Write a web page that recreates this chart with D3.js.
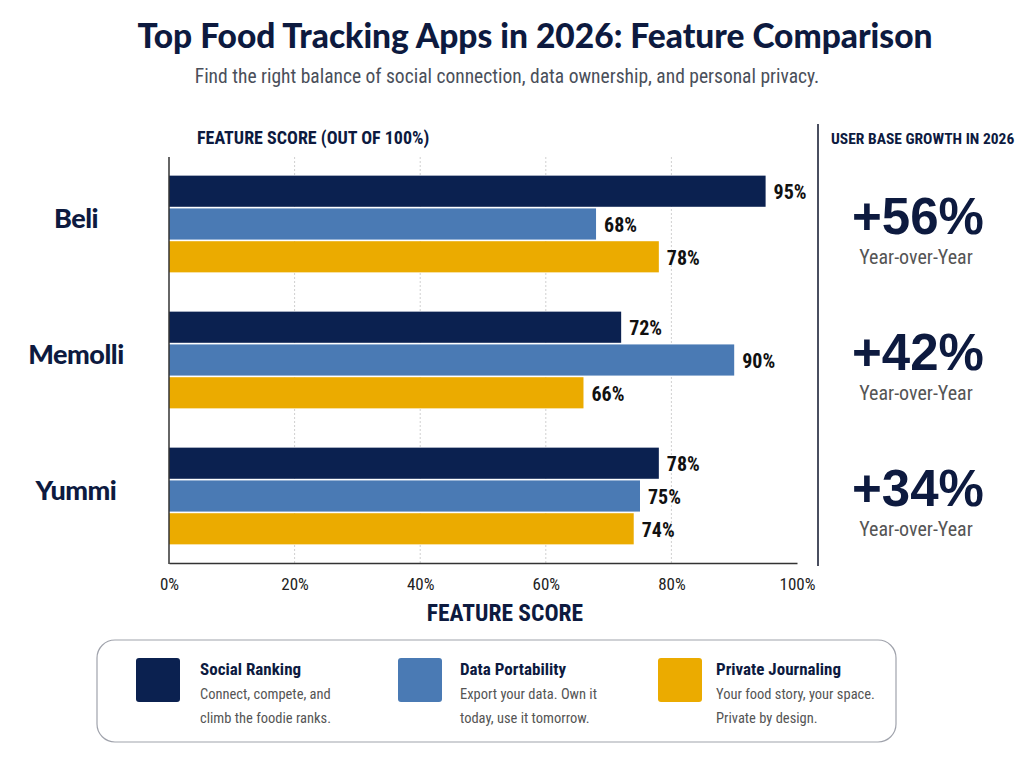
<!DOCTYPE html>
<html>
<head>
<meta charset="utf-8">
<script src="https://cdn.jsdelivr.net/npm/d3@7"></script>
<style>
  body { margin: 0; background: #fff; }
  svg { display: block; }
</style>
</head>
<body>
<div id="chart"></div>
<script>
const apps = ['Beli', 'Memolli', 'Yummi']
const features = ['Social Ranking', 'Data Portability', 'Private Journaling']
const featureNotes = [
  ['Connect, compete, and', 'climb the foodie ranks.'],
  ['Export your data. Own it', 'today, use it tomorrow.'],
  ['Your food story, your space.', 'Private by design.']
]
const socialRanking = [95, 72, 78]
const dataPortability = [68, 90, 75]
const privateJournaling = [78, 66, 74]
const growth = [56, 42, 34]
const ticks = [0, 20, 40, 60, 80, 100]

const colors = ['#0b2150', '#4a7ab4', '#ebab00']
const navy = '#0d1a3f'
const narrow = "'Liberation Sans Narrow', 'Roboto Condensed', Roboto, sans-serif"
const head = "Lato, 'Open Sans', sans-serif"

const w = 1024, h = 768

const svg = d3.select('#chart').append('svg')
  .attr('width', w)
  .attr('height', h)

svg.append('text')
  .attr('x', 535).attr('y', 48)
  .attr('text-anchor', 'middle')
  .attr('font-family', head).attr('font-weight', 900)
  .attr('font-size', 33.5).attr('fill', navy)
  .text('Top Food Tracking Apps in 2026: Feature Comparison')

svg.append('text')
  .attr('x', 507).attr('y', 83)
  .attr('text-anchor', 'middle')
  .attr('font-family', narrow)
  .attr('font-size', 19.5).attr('fill', '#4a4f5a')
  .text('Find the right balance of social connection, data ownership, and personal privacy.')

// bar chart
const x = d3.scaleLinear().domain([0, 100]).range([169, 797])
const y0 = d3.scaleBand().domain(apps).range([157, 565]).paddingInner(0).paddingOuter(0)
const y1 = d3.scaleBand().domain(features).range([17, 117]).padding(0.05)

svg.append('text')
  .attr('x', 197).attr('y', 144)
  .attr('font-family', narrow).attr('font-weight', 700)
  .attr('font-size', 18).attr('fill', navy)
  .text('FEATURE SCORE (OUT OF 100%)')

svg.append('g')
  .selectAll('line')
  .data(ticks.slice(1, -1))
  .join('line')
  .attr('x1', d => x(d)).attr('x2', d => x(d))
  .attr('y1', 157).attr('y2', 563)
  .attr('stroke', '#d0d0d0')
  .attr('stroke-dasharray', '2,2')

const rows = apps.map((app, i) => ({
  app,
  values: [socialRanking[i], dataPortability[i], privateJournaling[i]]
}))

const group = svg.append('g')
  .selectAll('g')
  .data(rows)
  .join('g')
  .attr('transform', d => `translate(0,${y0(d.app)})`)

group.selectAll('rect')
  .data(d => d.values.map((v, j) => ({ v, f: features[j], c: colors[j] })))
  .join('rect')
  .attr('x', x(0))
  .attr('y', d => y1(d.f))
  .attr('width', d => x(d.v) - x(0))
  .attr('height', y1.bandwidth())
  .attr('fill', d => d.c)

group.selectAll('text.val')
  .data(d => d.values.map((v, j) => ({ v, f: features[j] })))
  .join('text')
  .attr('class', 'val')
  .attr('x', d => x(d.v) + 8)
  .attr('y', d => y1(d.f) + y1.bandwidth() / 2 + 8)
  .attr('font-family', narrow).attr('font-weight', 700)
  .attr('font-size', 20).attr('fill', '#111')
  .text(d => d.v + '%')

group.append('text')
  .attr('x', 76).attr('y', 71)
  .attr('text-anchor', 'middle')
  .attr('font-family', head).attr('font-weight', 900)
  .attr('font-size', 27).attr('fill', navy)
  .attr('letter-spacing', -0.5)
  .text(d => d.app)

// axes
svg.append('line')
  .attr('x1', 169).attr('x2', 169).attr('y1', 157).attr('y2', 564)
  .attr('stroke', '#333').attr('stroke-width', 1.5)

const xAxis = svg.append('g')
  .attr('transform', 'translate(0,563)')
  .call(d3.axisBottom(x).tickValues(ticks).tickFormat(d => d + '%').tickSize(0).tickPadding(15))
xAxis.select('.domain').attr('stroke', '#333').attr('stroke-width', 1.5)
xAxis.selectAll('text')
  .attr('font-family', narrow).attr('font-size', 17).attr('fill', '#222')

svg.append('text')
  .attr('x', 505).attr('y', 621)
  .attr('text-anchor', 'middle')
  .attr('font-family', narrow).attr('font-weight', 700)
  .attr('font-size', 23.5).attr('fill', navy)
  .text('FEATURE SCORE')

// growth panel
svg.append('line')
  .attr('x1', 818).attr('x2', 818).attr('y1', 124).attr('y2', 566)
  .attr('stroke', '#4a4f60').attr('stroke-width', 2)

svg.append('text')
  .attr('x', 831).attr('y', 144)
  .attr('font-family', narrow).attr('font-weight', 700)
  .attr('font-size', 15.5).attr('fill', navy)
  .text('USER BASE GROWTH IN 2026')

const panel = svg.append('g')
  .selectAll('g')
  .data(apps.map((app, i) => ({ app, g: growth[i] })))
  .join('g')
  .attr('transform', d => `translate(0,${y0(d.app)})`)

panel.append('text')
  .attr('x', 918).attr('y', 77)
  .attr('text-anchor', 'middle')
  .attr('font-family', "'Liberation Sans', Arial, sans-serif").attr('font-weight', 700)
  .attr('font-size', 51).attr('fill', navy)
  .text(d => '+' + d.g + '%')

panel.append('text')
  .attr('x', 916).attr('y', 107)
  .attr('text-anchor', 'middle')
  .attr('font-family', narrow)
  .attr('font-size', 20).attr('fill', '#555')
  .text('Year-over-Year')

// legend
svg.append('rect')
  .attr('x', 97).attr('y', 640)
  .attr('width', 799).attr('height', 102)
  .attr('rx', 18)
  .attr('fill', '#fff').attr('stroke', '#a0a3ac').attr('stroke-width', 1.2)

const lx = [136, 398, 658]
const textOffset = [64, 62, 58]
const item = svg.append('g')
  .selectAll('g')
  .data(features.map((f, i) => ({ f, c: colors[i], notes: featureNotes[i], x: lx[i], o: textOffset[i] })))
  .join('g')
  .attr('transform', d => `translate(${d.x},658)`)

item.append('rect')
  .attr('width', 44).attr('height', 44).attr('rx', 3)
  .attr('fill', d => d.c)

item.append('text')
  .attr('x', d => d.o).attr('y', 17)
  .attr('font-family', narrow).attr('font-weight', 700)
  .attr('font-size', 17).attr('fill', navy)
  .text(d => d.f)

item.selectAll('text.note')
  .data(d => d.notes.map(t => ({ t, o: d.o })))
  .join('text')
  .attr('class', 'note')
  .attr('x', d => d.o).attr('y', (d, i) => 41 + i * 24)
  .attr('font-family', narrow)
  .attr('font-size', 14.5).attr('fill', '#555')
  .text(d => d.t)
</script>
</body>
</html>
